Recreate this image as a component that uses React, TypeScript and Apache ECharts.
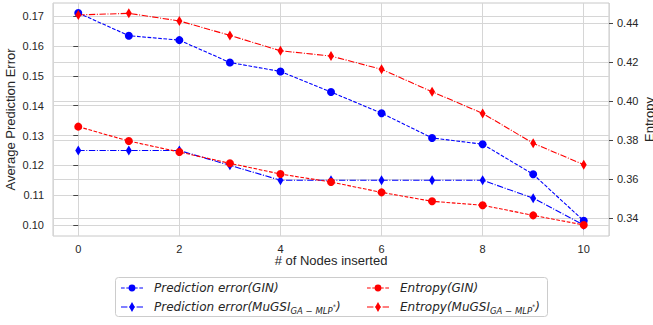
import { useEffect, useRef } from 'react';
import * as echarts from 'echarts';

// ---- data ----
const nodesInserted = [0, 1, 2, 3, 4, 5, 6, 7, 8, 9, 10];
const predErrorGIN = [0.1711, 0.1635, 0.162, 0.1545, 0.1515, 0.1446, 0.1375, 0.1292, 0.1271, 0.117, 0.1014];
const predErrorMuGSI = [0.125, 0.125, 0.125, 0.12, 0.115, 0.115, 0.115, 0.115, 0.115, 0.109, 0.1];
const entropyGIN = [0.387, 0.3796, 0.374, 0.3682, 0.3627, 0.3586, 0.3533, 0.3487, 0.3467, 0.3415, 0.3366];
const entropyMuGSI = [0.4443, 0.4451, 0.4412, 0.4338, 0.4259, 0.4232, 0.4164, 0.4049, 0.3938, 0.3785, 0.3675];

const xTickLabels = [0, 2, 4, 6, 8, 10];
const leftTicks = [0.1, 0.11, 0.12, 0.13, 0.14, 0.15, 0.16, 0.17];
const rightTicks = [0.34, 0.36, 0.38, 0.4, 0.42, 0.44];

const NAME_PE_GIN = 'Prediction error(GIN)';
const NAME_PE_MUGSI = 'Prediction error(MuGSI)';
const NAME_ENT_GIN = 'Entropy(GIN)';
const NAME_ENT_MUGSI = 'Entropy(MuGSI)';

const BLUE = '#0000ff';
const RED = '#ff0000';
const TEXT = '#262626';
const GRID = '#d6d6d6';

const DASHED = [3.7, 1.6];
const DASHDOT = [6.4, 1.6, 1, 1.6];

const ICON_CIRCLE =
  'path://M0,4.5h3.7v1h-3.7z M5.3,4.5h3.7v1h-3.7z M13,4.5h3.7v1h-3.7z M18.3,4.5h3.7v1h-3.7z M7.6,5a3.4,3.4 0 1,1 6.8,0a3.4,3.4 0 1,1 -6.8,0z';
const ICON_DIAMOND =
  'path://M0,4.5h6.4v1h-6.4z M8,4.5h1v1h-1z M13,4.5h1v1h-1z M15.6,4.5h6.4v1h-6.4z M8.2,5L11,0L13.8,5L11,10Z';

const pairs = (ys: number[]) => nodesInserted.map((x, i) => [x, ys[i]]);

function legendLabel(name: string): string {
  if (name === NAME_PE_MUGSI) return 'Prediction error(MuGSI{sub|GA − MLP}{sup|*})';
  if (name === NAME_ENT_MUGSI) return 'Entropy(MuGSI{sub|GA − MLP}{sup|*})';
  return name;
}

const legendText = {
  fontFamily: 'DejaVu Sans',
  fontStyle: 'italic' as const,
  fontSize: 12,
  color: TEXT,
  lineHeight: 16,
  padding: [0, 0, 0, 6],
  rich: {
    sub: {
      fontFamily: 'DejaVu Sans',
      fontStyle: 'italic' as const,
      fontSize: 8.5,
      lineHeight: 9,
      verticalAlign: 'bottom' as const,
      color: TEXT,
    },
    sup: {
      fontFamily: 'DejaVu Sans',
      fontStyle: 'italic' as const,
      fontSize: 6.5,
      lineHeight: 8,
      verticalAlign: 'middle' as const,
      color: TEXT,
    },
  },
};

export default function App() {
  const ref = useRef<HTMLDivElement>(null);

  useEffect(() => {
    if (!ref.current) return;
    const chart = echarts.init(ref.current, undefined, { renderer: 'svg' });

    const axisLabelStyle = {
      fontFamily: 'Liberation Sans',
      fontSize: 11,
      color: TEXT,
    };

    chart.setOption({
      animation: false,
      backgroundColor: '#ffffff',
      grid: {
        left: 53,
        right: 44,
        top: 3,
        bottom: 89,
        show: true,
        borderColor: '#c8c8c8',
        borderWidth: 1,
        backgroundColor: 'transparent',
        containLabel: false,
        outerBoundsMode: 'none',
      },
      xAxis: {
        type: 'value',
        min: -0.5,
        max: 10.5,
        name: '# of Nodes inserted',
        nameLocation: 'middle',
        nameGap: 18,
        nameMoveOverlap: false,
        nameTextStyle: { fontFamily: 'Liberation Sans', fontSize: 13, color: TEXT, verticalAlign: 'top' },
        axisLine: { show: false },
        axisTick: { show: false },
        axisLabel: { ...axisLabelStyle, margin: 7, customValues: xTickLabels },
        splitLine: { show: true, lineStyle: { color: GRID, width: 1 } },
      },
      yAxis: [
        {
          type: 'value',
          position: 'left',
          min: 0.09631,
          max: 0.17446,
          splitNumber: 8,
          name: 'Average Prediction Error',
          nameLocation: 'middle',
          nameGap: 36,
          nameMoveOverlap: false,
          nameTextStyle: { fontFamily: 'Liberation Sans', fontSize: 13, color: TEXT },
          axisLine: { show: false },
          axisTick: { show: true, length: 5, customValues: leftTicks, lineStyle: { color: '#444' } },
          axisLabel: {
            ...axisLabelStyle,
            margin: 9,
            customValues: leftTicks,
            formatter: (v: number) => v.toFixed(2),
          },
          splitLine: { show: true, lineStyle: { color: GRID, width: 1 } },
        },
        {
          type: 'value',
          position: 'right',
          min: 0.33092,
          max: 0.45041,
          splitNumber: 6,
          name: 'Entropy',
          nameLocation: 'middle',
          nameGap: 34,
          nameMoveOverlap: false,
          nameTextStyle: { fontFamily: 'Liberation Sans', fontSize: 13, color: TEXT },
          axisLine: { show: false },
          axisTick: { show: true, length: 4, customValues: rightTicks, lineStyle: { color: '#444' } },
          axisLabel: {
            ...axisLabelStyle,
            margin: 8,
            customValues: rightTicks,
            formatter: (v: number) => v.toFixed(2),
          },
          splitLine: { show: true, lineStyle: { color: GRID, width: 1 } },
        },
      ],
      graphic: [
        {
          type: 'rect',
          x: 115.5,
          y: 277.5,
          z: 0,
          shape: { width: 432, height: 39, r: 3 },
          style: { fill: '#ffffff', stroke: '#cccccc', lineWidth: 1 },
        },
      ],
      legend: [
        {
          orient: 'vertical',
          left: 121,
          top: 280,
          padding: 0,
          itemGap: 3,
          itemWidth: 22,
          itemHeight: 10,
          symbolKeepAspect: true,
          z: 10,
          itemStyle: { borderWidth: 0 },
          data: [
            { name: NAME_PE_GIN, icon: ICON_CIRCLE },
            { name: NAME_PE_MUGSI, icon: ICON_DIAMOND },
          ],
          formatter: legendLabel,
          textStyle: legendText,
        },
        {
          orient: 'vertical',
          left: 367,
          top: 280,
          padding: 0,
          itemGap: 3,
          itemWidth: 22,
          itemHeight: 10,
          symbolKeepAspect: true,
          z: 10,
          itemStyle: { borderWidth: 0 },
          data: [
            { name: NAME_ENT_GIN, icon: ICON_CIRCLE },
            { name: NAME_ENT_MUGSI, icon: ICON_DIAMOND },
          ],
          formatter: legendLabel,
          textStyle: legendText,
        },
      ],
      series: [
        {
          name: NAME_PE_GIN,
          type: 'line',
          yAxisIndex: 0,
          data: pairs(predErrorGIN),
          symbol: 'circle',
          symbolSize: 8,
          color: BLUE,
          itemStyle: { color: BLUE, borderWidth: 0 },
          lineStyle: { color: BLUE, width: 1.1, type: DASHED },
        },
        {
          name: NAME_PE_MUGSI,
          type: 'line',
          yAxisIndex: 0,
          data: pairs(predErrorMuGSI),
          symbol: 'diamond',
          symbolSize: [6, 10],
          color: BLUE,
          itemStyle: { color: BLUE, borderWidth: 0 },
          lineStyle: { color: BLUE, width: 1.1, type: DASHDOT },
        },
        {
          name: NAME_ENT_GIN,
          type: 'line',
          yAxisIndex: 1,
          data: pairs(entropyGIN),
          symbol: 'circle',
          symbolSize: 8,
          color: RED,
          itemStyle: { color: RED, borderWidth: 0 },
          lineStyle: { color: RED, width: 1.1, type: DASHED },
        },
        {
          name: NAME_ENT_MUGSI,
          type: 'line',
          yAxisIndex: 1,
          data: pairs(entropyMuGSI),
          symbol: 'diamond',
          symbolSize: [6, 10],
          color: RED,
          itemStyle: { color: RED, borderWidth: 0 },
          lineStyle: { color: RED, width: 1.1, type: DASHDOT },
        },
      ],
    });

    return () => {
      chart.dispose();
    };
  }, []);

  return <div ref={ref} style={{ width: 653, height: 325, position: 'absolute', left: 0, top: 0 }} />;
}
